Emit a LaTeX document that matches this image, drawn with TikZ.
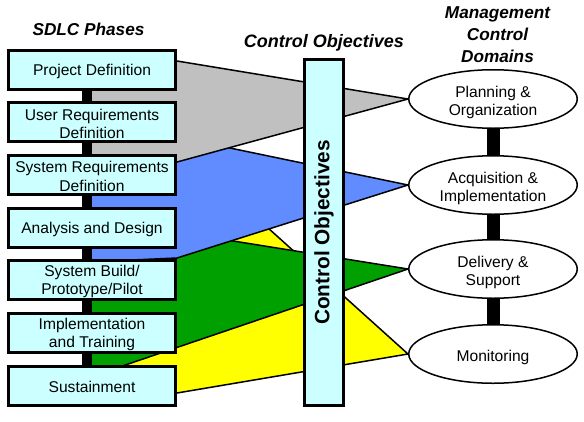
\documentclass[tikz,border=0pt]{standalone}
\usepackage{fontspec}
\setmainfont{Liberation Sans}
\usetikzlibrary{shapes.geometric}
\pgfdeclarelayer{bg}
\pgfsetlayers{bg,main}
\definecolor{boxcyan}{RGB}{204,255,255}
\definecolor{fangrey}{RGB}{192,192,192}
\definecolor{fanblue}{RGB}{96,140,255}
\definecolor{fangreen}{RGB}{0,160,0}
\definecolor{fanyellow}{RGB}{255,255,0}
\newcommand\boxlift{\rule{0pt}{14.5pt}}
\newcommand\elllift{\rule{0pt}{18.5pt}}
\begin{document}
\begin{tikzpicture}[x=1pt,y=-1pt,
  phase/.style={draw=black, line width=3pt, fill=boxcyan, minimum width=167pt, minimum height=39pt, inner sep=0pt, align=center, font=\fontsize{15.6}{18.3}\selectfont},
  domainnode/.style={ellipse, draw=black, line width=1.5pt, fill=white, minimum width=168.5pt, minimum height=58.5pt, inner sep=0pt, align=center, font=\fontsize{15.6}{18.6}\selectfont},
  titletext/.style={font=\fontsize{17.2}{21}\selectfont\bfseries\itshape, anchor=base},
  fan/.style={draw=black, line width=1.5pt, line join=miter},
  link/.style={line width=10pt, black},
  dlink/.style={line width=13pt, black}
]
\useasboundingbox (0,0) rectangle (584,421);

% titles
\node[titletext] (t1) at (88.5,35) {SDLC Phases};
\node[titletext, font=\fontsize{18}{21}\selectfont\bfseries\itshape] (t2) at (324,47) {Control Objectives};
\node[titletext] (t3a) at (497.5,18.5) {Management};
\node[titletext] (t3b) at (497.5,40.5) {Control};
\node[titletext] (t3c) at (497.5,62) {Domains};

% SDLC phase boxes
\node[phase] (p1) at (92,69.5) {\boxlift Project Definition};
\node[phase] (p2) at (92,122.2) {\boxlift User Requirements\\Definition};
\node[phase] (p3) at (92,174.8) {\boxlift System Requirements\\Definition};
\node[phase] (p4) at (92,227.5) {\boxlift Analysis and Design};
\node[phase] (p5) at (92,280.2) {\boxlift System Build/\\Prototype/Pilot};
\node[phase] (p6) at (92,332.8) {\boxlift Implementation\\and Training};
\node[phase] (p7) at (92,385.5) {\boxlift Sustainment};

% control objectives bar
\node[draw=black, line width=3pt, fill=boxcyan, minimum width=39pt, minimum height=346pt, inner sep=0pt] (co) at (324,232.5) {};
\node[rotate=90, font=\fontsize{20.8}{24}\selectfont\bfseries] (colabel) at (co.center) {Control Objectives};

% management control domains
\node[domainnode] (d1) at (493,99) {\elllift Planning \&\\Organization};
\node[domainnode] (d2) at (493,185) {\elllift Acquisition \&\\Implementation};
\node[domainnode] (d3) at (493,269) {\elllift Delivery \&\\Support};
\node[domainnode] (d4) at (493,354) {\elllift Monitoring};

% connectors
\foreach \a/\b in {p1/p2,p2/p3,p3/p4,p4/p5,p5/p6,p6/p7}
  \draw[link] ([xshift=-5pt]\a.south) -- ([xshift=-5pt]\b.north);
\foreach \a/\b in {d1/d2,d2/d3,d3/d4}
  \draw[dlink] (\a.south) -- (\b.north);

% fans
\begin{pgfonlayer}{bg}
\draw[fan, fill=fanyellow] (177,146) -- (d4.west) -- (177,393) -- (100,393) -- (100,340) -- (177,340) -- cycle;
\draw[fan, fill=fangreen] (87,232) -- (177,232) -- (d3.west) -- (87,378) -- cycle;
\draw[fan, fill=fanblue] (87,137) -- (177,137) -- (d2.west) -- (177,258) -- (87,262) -- cycle;
\draw[fan, fill=fangrey] (87,61) -- (177,61) -- (d1.west) -- (177,162) -- (87,162) -- cycle;
\end{pgfonlayer}
\end{tikzpicture}
\end{document}
